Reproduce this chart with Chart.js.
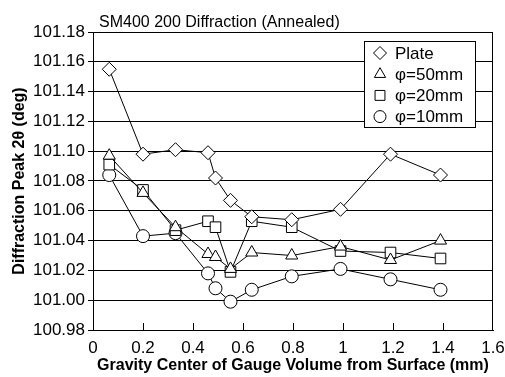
<!DOCTYPE html>
<html>
<head>
<meta charset="utf-8">
<title>SM400 200 Diffraction (Annealed)</title>
<script src="https://cdn.jsdelivr.net/npm/chart.js@4.4.1/dist/chart.umd.min.js"></script>
<style>
  html, body { margin: 0; padding: 0; background: #fff; }
  #wrap { width: 505px; height: 377px; position: relative; }
</style>
</head>
<body>
<div id="wrap"><canvas id="diffChart"></canvas></div>
<script>
"use strict";

/* ================================
   DADOS
   ================================ */
const TITLE = "SM400 200 Diffraction (Annealed)";
const X_TITLE = "Gravity Center of Gauge Volume from Surface (mm)";
const Y_TITLE = "Diffraction Peak 2\u03B8 (deg)";

const depth = [0.065, 0.2, 0.33, 0.46, 0.49, 0.55, 0.635, 0.795, 0.99, 1.19, 1.39];

const plate = [101.155, 101.098, 101.101, 101.099, 101.082, 101.067, 101.056, 101.054, 101.061, 101.098, 101.084];
const phi50 = [101.097, 101.072, 101.049, 101.031, 101.029, 101.021, 101.032, 101.030, 101.036, 101.027, 101.040];
const phi20 = [101.091, 101.074, 101.047, 101.053, 101.049, 101.019, 101.053, 101.049, 101.033, 101.032, 101.028];
const phi10 = [101.084, 101.043, 101.045, 101.018, 101.008, 100.999, 101.007, 101.016, 101.021, 101.014, 101.007];

const seriesNames = ["Plate", "\u03C6=50mm", "\u03C6=20mm", "\u03C6=10mm"];
const seriesStyles = ["rectRot", "triangle", "rect", "circle"];
const seriesRadius = [7, 7, 7.5, 6.5];

const Y_MIN = 100.98, Y_MAX = 101.18, Y_STEP = 0.02;
const X_MIN = 0, X_MAX = 1.6, X_STEP = 0.2;

/* ================================
   HELPERS
   ================================ */
const FONT = "'Liberation Sans', Arial, Helvetica, sans-serif";

function toPoints(ys) {
  return ys.map((y, i) => ({ x: depth[i], y: y }));
}

function makeDataset(idx, ys) {
  return {
    label: seriesNames[idx],
    data: toPoints(ys),
    borderColor: "#000",
    borderWidth: 1,
    backgroundColor: "#fff",
    pointStyle: seriesStyles[idx],
    pointRadius: seriesRadius[idx],
    pointBackgroundColor: "#fff",
    pointBorderColor: "#000",
    pointBorderWidth: 1,
    tension: 0,
    fill: false
  };
}

/* ================================
   PLUGINS (moldura, ticks internos, título, legenda)
   ================================ */
const framePlugin = {
  id: "frame",
  afterDraw(chart) {
    const { ctx, chartArea: a, scales } = chart;
    ctx.save();
    ctx.strokeStyle = "#000";
    ctx.lineWidth = 1;
    ctx.strokeRect(Math.round(a.left) + 0.5, Math.round(a.top) + 0.5,
                   Math.round(a.right - a.left) - 1, Math.round(a.bottom - a.top));

    // ticks do eixo x voltados para dentro
    const xs = scales.x;
    xs.ticks.forEach(t => {
      if (t.value <= X_MIN || t.value >= X_MAX) return;
      const px = Math.round(xs.getPixelForValue(t.value)) + 0.5;
      ctx.beginPath();
      ctx.moveTo(px, a.bottom);
      ctx.lineTo(px, a.bottom - 7);
      ctx.stroke();
    });

    // título
    ctx.fillStyle = "#000";
    ctx.font = "16px " + FONT;
    ctx.textAlign = "left";
    ctx.textBaseline = "alphabetic";
    ctx.fillText(TITLE, a.left + 6, 27);
    ctx.restore();
  }
};

const boxLegendPlugin = {
  id: "boxLegend",
  afterDraw(chart) {
    const { ctx } = chart;
    const box = { x: 364.5, y: 41.5, w: 111, h: 86 };
    ctx.save();
    ctx.fillStyle = "#fff";
    ctx.strokeStyle = "#000";
    ctx.lineWidth = 1;
    ctx.fillRect(box.x, box.y, box.w, box.h);
    ctx.strokeRect(box.x, box.y, box.w, box.h);

    ctx.font = "17px " + FONT;
    ctx.textBaseline = "middle";
    ctx.textAlign = "left";
    seriesNames.forEach((name, i) => {
      const cy = 53 + i * 21.2;
      ctx.fillStyle = "#fff";
      ctx.strokeStyle = "#000";
      Chart.helpers.drawPoint(ctx, {
        pointStyle: seriesStyles[i],
        radius: seriesRadius[i] - 0.5,
        borderWidth: 1
      }, 380, cy);
      ctx.fillStyle = "#000";
      ctx.fillText(name, 395, cy + 1);
    });
    ctx.restore();
  }
};

/* ================================
   CHART
   ================================ */
function initChart() {
  const canvas = document.getElementById("diffChart");

  new Chart(canvas.getContext("2d"), {
    type: "line",
    data: {
      datasets: [
        makeDataset(0, plate),
        makeDataset(1, phi50),
        makeDataset(2, phi20),
        makeDataset(3, phi10)
      ]
    },
    options: {
      responsive: true,
      maintainAspectRatio: false,
      animation: false,
      layout: { padding: { left: 0, right: 12, top: 32, bottom: 0 } },
      plugins: {
        legend: { display: false },
        title: { display: false },
        tooltip: { enabled: false }
      },
      scales: {
        x: {
          type: "linear",
          min: X_MIN,
          max: X_MAX,
          ticks: {
            stepSize: X_STEP,
            color: "#000",
            padding: 0,
            maxRotation: 0,
            font: { family: FONT, size: 17 },
            callback: v => String(Math.round(v * 10) / 10)
          },
          grid: { display: false },
          border: { display: true, color: "#000", width: 1 },
          title: {
            display: true,
            text: X_TITLE,
            color: "#000",
            font: { family: FONT, size: 16, weight: "bold" },
            padding: { top: 0, bottom: 2 }
          },
          afterFit: s => { s.height = 47; }
        },
        y: {
          min: Y_MIN,
          max: Y_MAX,
          ticks: {
            stepSize: Y_STEP,
            color: "#000",
            padding: 3,
            font: { family: FONT, size: 17 },
            callback: v => Number(v).toFixed(2)
          },
          grid: {
            color: "#000",
            lineWidth: 1,
            drawTicks: true,
            tickLength: 5,
            tickColor: "#000"
          },
          border: { display: true, color: "#000", width: 1 },
          title: {
            display: true,
            text: Y_TITLE,
            color: "#000",
            font: { family: FONT, size: 16, weight: "bold" },
            padding: { top: 10, bottom: 0 }
          },
          afterFit: s => { s.width = 93; }
        }
      }
    },
    plugins: [framePlugin, boxLegendPlugin]
  });
}

document.addEventListener("DOMContentLoaded", initChart);
</script>
</body>
</html>
